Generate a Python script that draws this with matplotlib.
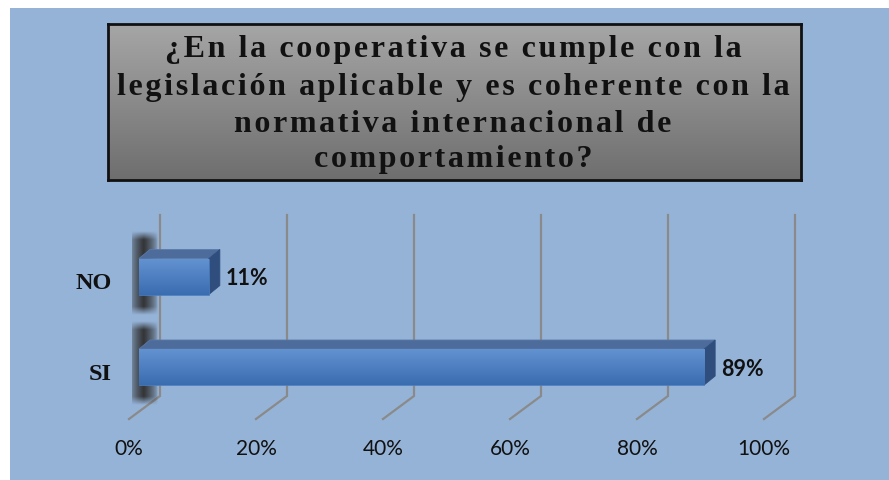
import numpy as np
import matplotlib
matplotlib.use("Agg")
import matplotlib.pyplot as plt
from matplotlib.patches import Polygon
from matplotlib.colors import LinearSegmentedColormap

# datos
categorias = ['SI', 'NO']
valores = [89, 11]
ticks = [0, 20, 40, 60, 80, 100]
titulo = ['¿En la cooperativa se cumple con la',
          'legislación aplicable y es coherente con la',
          'normativa internacional de',
          'comportamiento?']

W, H = 889, 480
fig = plt.figure(figsize=(W / 100, H / 100), dpi=100)
fig.patch.set_facecolor('white')
fig.suppressComposite = True

# fondo azul
bg = fig.add_axes([10 / W, 0, 1 - 10 / W, 1 - 8 / H], zorder=-10)
bg.set_facecolor('#95b3d7')
bg.set_xticks([])
bg.set_yticks([])
for s in bg.spines.values():
    s.set_visible(False)

# cuadro del titulo con degradado gris
tax = fig.add_axes([108 / W, 1 - 180 / H, 693 / W, 156 / H])
grad = np.linspace(0, 1, 256).reshape(-1, 1)
tax.imshow(grad, aspect='auto', extent=[0, 1, 0, 1],
           cmap=LinearSegmentedColormap.from_list('g', ['#a6a6a6', '#6e6e6e']))
tax.set_xticks([])
tax.set_yticks([])
for s in tax.spines.values():
    s.set_linewidth(2)
    s.set_color('#111111')

ys = [50, 87, 124, 160]
for linea, yy in zip(titulo, ys):
    fig.text(453 / W, 1 - yy / H, '\u200a'.join(linea), ha='center', va='center',
             fontsize=23, fontweight='bold', color='#111111',
             family=['Liberation Serif', 'DejaVu Serif'], zorder=5)

# ejes principales
px_x = 6.35
px_y = 90.5
DX = 1 / px_x
DY = 1 / px_y
ax = fig.add_axes([139 / W, 1 - 419 / H, 635 / W, 204 / H])
ax.patch.set_alpha(0)
y0 = -52 * DY
y1 = y0 + 204 * DY
ax.set_xlim(0, 100)
ax.set_ylim(y0, y1)
ax.axis('off')

# rejilla tipo 3D
for t in ticks:
    xb = t + 21 * DX
    xf = t - 10 * DX
    ax.plot([xb, xb, xf], [y1, y0 + 23 * DY, y0], color='#8a8a8a', lw=1.6,
            clip_on=False, zorder=1, solid_joinstyle='miter')
    ax.text(xf, y0 - 30 * DY, f'{t}%', ha='center', va='center', fontsize=15,
            family='Lato', color='#111111', clip_on=False)

# sombra difusa (mascara suave)
sx = np.linspace(0, 1, 80)
sy = np.linspace(0, 1, 200)
ax_prof = np.clip(1 - np.abs(sx - 0.45) / 0.55, 0, 1) ** 0.6
ay_prof = np.clip(np.minimum(sy, 1 - sy) / 0.1, 0, 1)
alpha = np.outer(ay_prof, ax_prof) * 0.95
sombra = np.zeros((200, 80, 4))
sombra[..., 0] = sombra[..., 1] = sombra[..., 2] = 0.18
sombra[..., 3] = alpha

ypos = np.arange(len(categorias))
h = 36 * DY
cmap_bar = LinearSegmentedColormap.from_list('b', ['#3a6cb0', '#6392d0'])
for y, v, cat in zip(ypos, valores, categorias):
    top = y + h / 2
    bot = y - h / 2
    ax.imshow(sombra, aspect='auto', extent=[-7 * DX, 19 * DX, bot - 20 * DY, top + 28 * DY],
              zorder=2, origin='lower', clip_on=False, interpolation='bilinear')
    # cara superior
    ax.add_patch(Polygon([(0, top), (v, top), (v + 11 * DX, top + 9 * DY), (11 * DX, top + 9 * DY)],
                         facecolor='#4d6c9c', edgecolor='#5a7aaa', lw=0.6, zorder=3, clip_on=False))
    # cara lateral
    ax.add_patch(Polygon([(v, bot), (v, top), (v + 11 * DX, top + 9 * DY), (v + 11 * DX, bot + 9 * DY)],
                         facecolor='#2f4e7e', edgecolor='#2f4e7e', lw=0.6, zorder=3, clip_on=False))
    ax.annotate(f'{v}%', xy=(v, y), xytext=(17, -2), textcoords='offset pixels',
                ha='left', va='center', fontsize=15.5, fontweight='bold', family='Lato',
                color='#111111')
    ax.text(-27 * DX, y - 7 * DY, cat, ha='right', va='center', fontsize=17.5,
            fontweight='bold', family='Liberation Serif', color='#111111', clip_on=False)

bars = ax.barh(ypos, valores, height=h, color='#4a7cc0', edgecolor='#4a7cc0', lw=0.5, zorder=4)
for b, v, y in zip(bars, valores, ypos):
    im = ax.imshow(grad, aspect='auto', extent=[0, v, y - h / 2, y + h / 2],
                   cmap=cmap_bar, zorder=4.5, origin='lower')
    im.set_clip_path(b)

ax.set_xlim(0, 100)
ax.set_ylim(y0, y1)

fig.savefig('out.png', dpi=100)
